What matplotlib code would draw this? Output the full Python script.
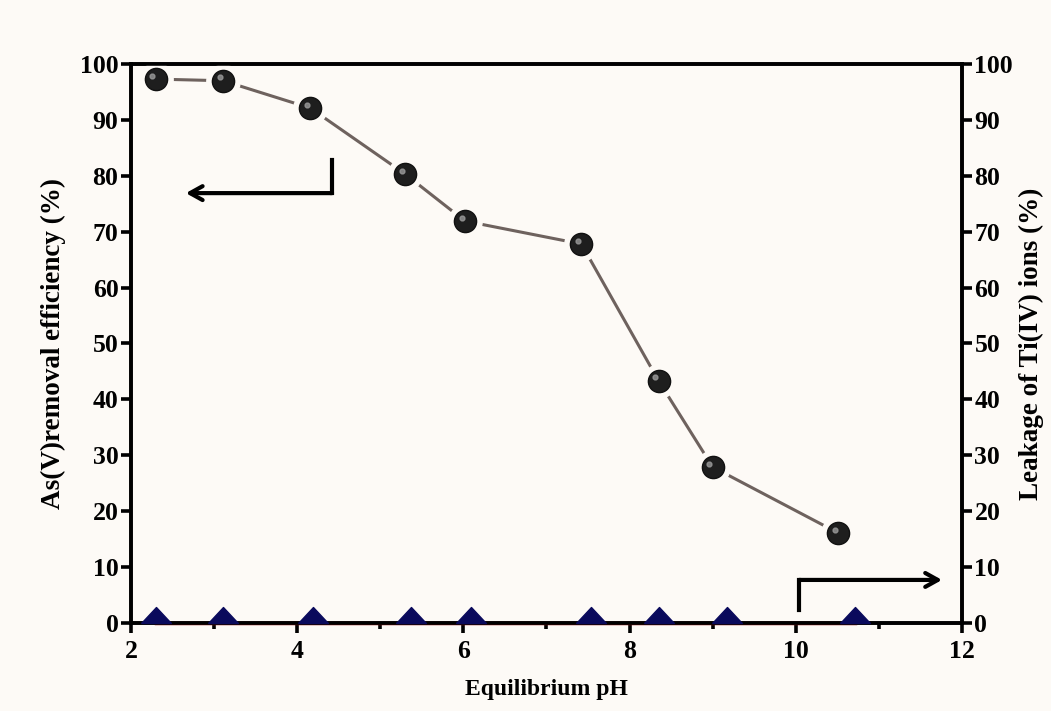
import numpy as np
import matplotlib.pyplot as plt
from matplotlib.ticker import MultipleLocator
from matplotlib.transforms import ScaledTranslation

# As(V) removal efficiency vs equilibrium pH
ph_removal = [2.30, 3.11, 4.16, 5.30, 6.02, 7.42, 8.35, 9.00, 10.51]
removal = [97.3, 97.0, 92.1, 80.3, 71.9, 67.8, 43.3, 27.9, 16.1]

# Ti(IV) leakage vs equilibrium pH
ph_leak = [2.30, 3.11, 4.19, 5.37, 6.09, 7.53, 8.36, 9.17, 10.71]
leakage = [0, 0, 0, 0, 0, 0, 0, 0, 0]

bg = "#fdfaf6"
plt.rcParams["font.family"] = ["Liberation Serif", "DejaVu Serif"]
plt.rcParams["font.weight"] = "bold"

fig = plt.figure(figsize=(10.51, 7.11), dpi=100, facecolor=bg)
ax = fig.add_axes([0.1246, 0.1238, 0.7907, 0.7862], facecolor=bg)
ax2 = ax.twinx()

ax.set_xlim(2, 12)
ax.set_ylim(0, 100)
ax2.set_ylim(0, 100)

# removal curve: wide background-coloured markers leave gaps in the line
ax.plot(ph_removal, removal, "-", color="#6e625e", lw=2.2, marker="o", ms=24,
        mfc=bg, mec=bg, zorder=3)
ax.plot(ph_removal, removal, "o", ms=16, mfc="#1e1e1e", mec="#111111", mew=1,
        ls="none", zorder=4)
hl = ax.transData + ScaledTranslation(-2.5 / 72, 2.5 / 72, fig.dpi_scale_trans)
ax.plot(ph_removal, removal, "o", ms=3.5, color="#9a9a9a", alpha=0.8,
        ls="none", zorder=5, transform=hl)

# leakage: flat triangles sitting on the pH axis
tri = [(-1, 0), (1, 0), (0, 1.07), (-1, 0)]
ax2.plot(ph_leak, leakage, "-", color="#8b1010", lw=2.5, clip_on=False, zorder=2)
ax2.plot(ph_leak, leakage, ls="none", marker=tri, ms=23, color="#0a0a5c",
         clip_on=False, zorder=3)

# direction arrows pointing to each y-axis
arrow = dict(arrowstyle="->,head_length=0.9,head_width=0.5", lw=3, color="black",
             shrinkA=0, shrinkB=0)
ax.plot([4.42, 4.42], [82.8, 76.9], color="black", lw=3, solid_capstyle="projecting")
ax.annotate("", xy=(2.66, 76.9), xytext=(4.42, 76.9), arrowprops=arrow)
ax.plot([10.04, 10.04], [2.3, 7.7], color="black", lw=3, solid_capstyle="projecting")
ax.annotate("", xy=(11.76, 7.7), xytext=(10.04, 7.7), arrowprops=arrow)

ax.xaxis.set_major_locator(MultipleLocator(2))
ax.xaxis.set_minor_locator(MultipleLocator(1))
ax.yaxis.set_major_locator(MultipleLocator(10))
ax2.yaxis.set_major_locator(MultipleLocator(10))

for a in (ax, ax2):
    for s in a.spines.values():
        s.set_linewidth(2.6)
    a.tick_params(which="major", direction="out", length=7, width=2.6,
                  labelsize=18.5, pad=2)
ax.tick_params(which="minor", direction="out", length=4, width=2.6)
ax.tick_params(axis="x", pad=5)

ax.set_xlabel("Equilibrium pH", fontsize=17, fontweight="bold", labelpad=12)
ax.set_ylabel("As(V)removal efficiency (%)", fontsize=19.5, fontweight="bold",
              labelpad=10)
ax2.set_ylabel("Leakage of Ti(IV) ions (%)", fontsize=19.5, fontweight="bold",
               labelpad=4)

fig.savefig("out.png", dpi=100, facecolor=bg)
